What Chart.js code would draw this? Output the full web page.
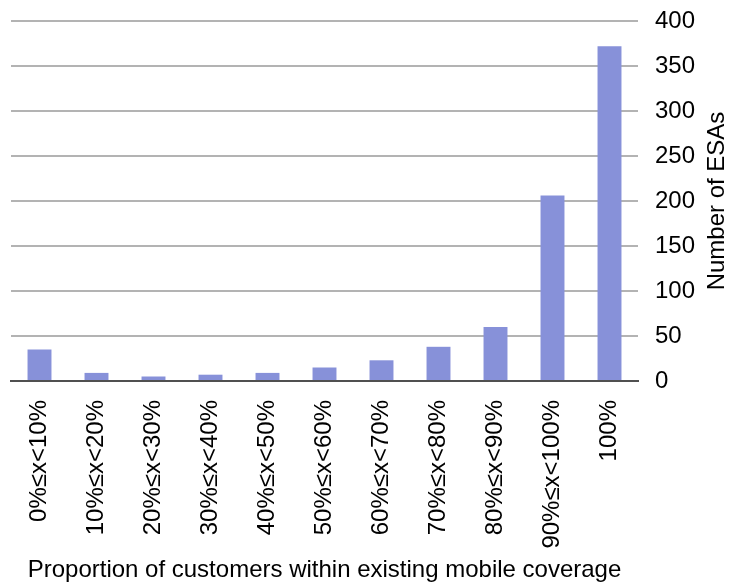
<!DOCTYPE html>
<html lang="en">
<head>
    <meta charset="UTF-8">
    <title>ESAs by mobile coverage</title>
    <script src="https://cdn.jsdelivr.net/npm/chart.js"></script>
    <style>
        html, body { margin: 0; padding: 0; background: #fff; }
        .chart { width: 729px; height: 585px; position: relative; }
    </style>
</head>
<body>
    <div class="chart">
        <canvas id="esaChart"></canvas>
    </div>

    <script>
        const categories = ['0%≤x<10%', '10%≤x<20%', '20%≤x<30%', '30%≤x<40%', '40%≤x<50%',
            '50%≤x<60%', '60%≤x<70%', '70%≤x<80%', '80%≤x<90%', '90%≤x<100%', '100%'];
        const esaCounts = [35, 9, 5, 7, 9, 15, 23, 38, 60, 206, 372];
        const yTicks = [0, 50, 100, 150, 200, 250, 300, 350, 400];

        const fontFamily = '"Liberation Sans", Arial, sans-serif';

        // y title sits right of the tick labels and reads bottom-to-top
        const rightTitle = {
            id: 'rightTitle',
            afterDraw(chart) {
                const { ctx, chartArea } = chart;
                ctx.save();
                ctx.translate(717, (chartArea.top + chartArea.bottom) / 2);
                ctx.rotate(-Math.PI / 2);
                ctx.font = '24px ' + fontFamily;
                ctx.fillStyle = '#000';
                ctx.textAlign = 'center';
                ctx.textBaseline = 'middle';
                ctx.fillText('Number of ESAs', 0, 0);
                ctx.restore();
            }
        };

        const ctx = document.getElementById('esaChart').getContext('2d');
        new Chart(ctx, {
            type: 'bar',
            data: {
                labels: categories,
                datasets: [{
                    label: 'Number of ESAs',
                    data: esaCounts,
                    backgroundColor: '#8791d9',
                    borderWidth: 0,
                    barPercentage: 0.42,
                    categoryPercentage: 1
                }]
            },
            options: {
                responsive: true,
                maintainAspectRatio: false,
                animation: false,
                layout: { padding: { top: 21, left: 11, right: 0, bottom: 0 } },
                plugins: {
                    legend: { display: false },
                    tooltip: { enabled: false }
                },
                scales: {
                    x: {
                        grid: { display: false, drawTicks: false },
                        border: { display: true, color: '#505050', width: 2 },
                        ticks: {
                            color: '#000',
                            font: { family: fontFamily, size: 24 },
                            maxRotation: 90,
                            minRotation: 90,
                            padding: 19,
                            autoSkip: false
                        },
                        title: {
                            display: true,
                            text: 'Proportion of customers within existing mobile coverage',
                            color: '#000',
                            font: { family: fontFamily, size: 24 },
                            padding: { top: 4, bottom: 0 }
                        },
                        afterFit(scale) {
                            scale.height = 204;
                            scale.paddingLeft = 0;
                            scale.paddingRight = 0;
                        }
                    },
                    y: {
                        position: 'right',
                        min: 0,
                        max: 400,
                        afterBuildTicks(scale) {
                            scale.ticks = yTicks.map(v => ({ value: v }));
                        },
                        grid: { color: '#b3b3b3', lineWidth: 2, drawTicks: false },
                        border: { display: false },
                        ticks: {
                            color: '#000',
                            font: { family: fontFamily, size: 24 },
                            padding: 17
                        },
                        afterFit(scale) {
                            scale.width = 91;
                            scale.paddingTop = 0;
                            scale.paddingBottom = 0;
                        }
                    }
                }
            },
            plugins: [rightTitle]
        });
    </script>
</body>
</html>
